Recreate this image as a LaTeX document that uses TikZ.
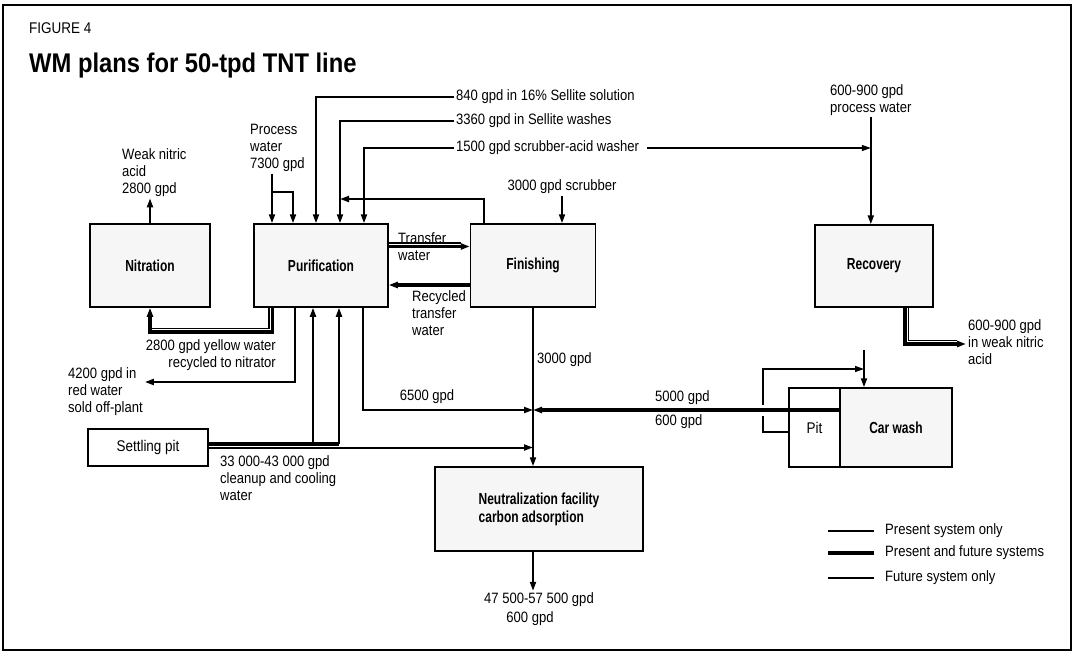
\documentclass[tikz,border=0pt]{standalone}
\usepackage{fontspec}
\setmainfont{Liberation Sans}[FakeStretch=0.87]
\newfontfamily\boxfont{Liberation Sans}[FakeStretch=0.75]
\newfontfamily\headfont{Liberation Sans}[FakeStretch=0.88]
\usetikzlibrary{arrows.meta}

\begin{document}
\begin{tikzpicture}[
  x=1pt,y=-1pt,
  >={Triangle[length=9pt,width=6pt]},
  box/.style={draw,line width=1.5pt,fill=gray!7,minimum width=#1,minimum height=83pt,
    align=center,font=\boxfont\bfseries\fontsize{16}{18}\selectfont},
  pitbox/.style={draw,line width=1.2pt,fill=white,font=\fontsize{15.5}{17}\selectfont},
  lbl/.style={inner sep=2pt,align=left,font=\fontsize{15}{17}\selectfont},
  pres/.style={line width=2pt},
  both/.style={line width=3.2pt},
  fut/.style={line width=1.3pt}
]
  \useasboundingbox (0,0) rectangle (1077,654);
  \draw[line width=2pt] (3,5) rectangle (1071,650);

  \node[anchor=base west,inner sep=0,font=\fontsize{15.5}{17}\selectfont] (fig) at (29,33) {FIGURE 4};
  \node[anchor=base west,inner sep=0,font=\headfont\bfseries\fontsize{27}{30}\selectfont] (title) at (29,72) {WM plans for 50-tpd TNT line};

  \node[box=120pt] (nitr) at (150,265.5) {Nitration};
  \node[box=134pt] (purif) at (321,265.5) {Purification};
  \node[box=125pt] (finish) at (533,265.5) {Finishing};
  \node[box=118pt,minimum height=82pt] (recov) at (874,266) {Recovery};
  \node[box=208pt,minimum height=84pt,align=left] (neutral) at (539,509) {Neutralization facility\\carbon adsorption};
  \node[box=112pt,minimum height=79pt] (carwash) at (896,427.5) {Car wash};
  \node[pitbox,minimum width=51pt,minimum height=79pt] (pit) at (814.5,427.5) {Pit};
  \node[pitbox,minimum width=120pt,minimum height=37pt] (settle) at (148,447.5) {Settling pit};

  \node[lbl,anchor=north west] (acid) at (120,146) {Weak nitric\\acid\\2800 gpd};
  \node[lbl,anchor=north west] (pwl) at (248,122) {Process\\water\\7300 gpd};
  \node[lbl,anchor=west] (sel1) at (454,97) {840 gpd in 16\% Sellite solution};
  \node[lbl,anchor=west] (sel2) at (454,121) {3360 gpd in Sellite washes};
  \node[lbl,anchor=west] (sel3) at (454,148) {1500 gpd scrubber-acid washer};
  \node[lbl] (scrub) at (562,187) {3000 gpd scrubber};
  \node[lbl,anchor=north west] (rpw) at (828,82) {600-900 gpd\\process water};
  \node[lbl,anchor=north west] (twl) at (396,230) {Transfer\\water};
  \node[lbl,anchor=north west] (rtwl) at (410,288) {Recycled\\transfer\\water};
  \node[lbl,anchor=north east,align=right] (ywl) at (278,337) {2800 gpd yellow water\\recycled to nitrator};
  \node[lbl,anchor=north west] (red) at (66,365) {4200 gpd in\\red water\\sold off-plant};
  \node[lbl] (l65) at (427,397) {6500 gpd};
  \node[lbl,anchor=west] (l30) at (535,360) {3000 gpd};
  \node[lbl,anchor=west] (l50) at (653,398) {5000 gpd};
  \node[lbl,anchor=west] (l6) at (653,422) {600 gpd};
  \node[lbl,anchor=north west] (cool) at (218,453) {33 000-43 000 gpd\\cleanup and cooling\\water};
  \node[lbl,anchor=north west] (rout) at (966,317) {600-900 gpd\\in weak nitric\\acid};
  \node[lbl] (out1) at (539,600) {47 500-57 500 gpd};
  \node[lbl] (out2) at (530,619) {600 gpd};

  \coordinate (pw-a) at (272,192);
  \coordinate (pw-b) at (293,192);
  \coordinate (s1) at (316,0);
  \coordinate (s2) at (340,0);
  \coordinate (s3) at (364,0);
  \coordinate (rec-top) at (484,199);
  \coordinate (tw) at (0,246.5);
  \coordinate (tw-thin) at (0,243);
  \coordinate (rtw) at (0,285);
  \coordinate (yw) at (272.5,332);
  \coordinate (yw-thin) at (269,328.5);
  \coordinate (rw) at (295,382);
  \coordinate (sp1) at (313,444);
  \coordinate (sp2) at (339,444);
  \coordinate (sp3) at (0,447.5);
  \coordinate (c65) at (363,410);
  \coordinate (loop-b) at (763,432);
  \coordinate (loop-t) at (763,369);
  \coordinate (cw-in) at (864,350);
  \coordinate (ro) at (905,344);
  \coordinate (ro-thin) at (908.5,340.5);

  \draw[pres,->] (nitr.north) -- (nitr.north |- acid.south);
  \draw[pres,->] (pwl.south -| pw-a) -- (pw-a |- purif.north);
  \draw[pres,->] (pw-a) -- (pw-b) -- (pw-b |- purif.north);
  \draw[pres,->] (sel1.west) -| (s1 |- purif.north);
  \draw[pres,->] (sel2.west) -| (s2 |- purif.north);
  \draw[pres,->] (sel3.west) -| (s3 |- purif.north);
  \draw[fut,->,shorten <=6pt] (sel3.east) -- (sel3.east -| rpw.south);
  \draw[pres,->] (rpw.south) -- (rpw.south |- recov.north);
  \draw[pres,->] (rec-top |- finish.north) -- (rec-top) -- (rec-top -| s2);
  \draw[pres,->] (scrub.south) -- (scrub.south |- finish.north);

  \draw[both,->] (purif.east |- tw) -- (finish.west |- tw);
  \draw[fut] (purif.east |- tw-thin) -- ([xshift=-9pt]finish.west |- tw-thin);
  \draw[both,->] (finish.west |- rtw) -- (purif.east |- rtw);

  \draw[both,->] (purif.south -| yw) -- (yw) -- (yw -| nitr.south) -- (nitr.south);
  \draw[fut] (purif.south -| yw-thin) -- (yw-thin) -- (yw-thin -| nitr.south);
  \draw[pres,->] (purif.south -| rw) -- (rw) -- (red.east |- rw);
  \draw[both] (settle.east |- sp2) -- (sp2);
  \draw[pres,->] (sp1) -- (sp1 |- purif.south);
  \draw[pres,->] (sp2) -- (sp2 |- purif.south);
  \draw[pres,->] (settle.east |- sp3) -- (finish.south |- sp3);
  \draw[pres,->] (purif.south -| c65) -- (c65) -- (c65 -| finish.south);
  \draw[pres,->] (finish.south) -- (finish.south |- neutral.north);
  \draw[pres,->] (neutral.south -| finish.south) -- (out1.north -| finish.south);

  \draw[both,->] (carwash.west |- c65) -- (c65 -| finish.south);
  \draw[fut] (pit.west |- loop-b) -- (loop-b) -- ++(0,-16);
  \draw[fut,->] (loop-t) ++(0,36) -- (loop-t) -- (loop-t -| cw-in);
  \draw[pres,->] (cw-in) -- (cw-in |- carwash.north);
  \draw[both,->] (recov.south -| ro) -- (ro) -- (rout.west |- ro);
  \draw[fut] (recov.south -| ro-thin) -- (ro-thin) -- ([xshift=-9pt]rout.west |- ro-thin);

  \node[lbl,anchor=west] (leg1) at (883,531) {Present system only};
  \node[lbl,anchor=west] (leg2) at (883,553) {Present and future systems};
  \node[lbl,anchor=west] (leg3) at (883,578) {Future system only};
  \draw[pres] ([xshift=-9pt]leg1.west) -- ++(-46,0);
  \draw[both] ([xshift=-9pt]leg2.west) -- ++(-46,0);
  \draw[fut] ([xshift=-9pt]leg3.west) -- ++(-46,0);
\end{tikzpicture}
\end{document}
